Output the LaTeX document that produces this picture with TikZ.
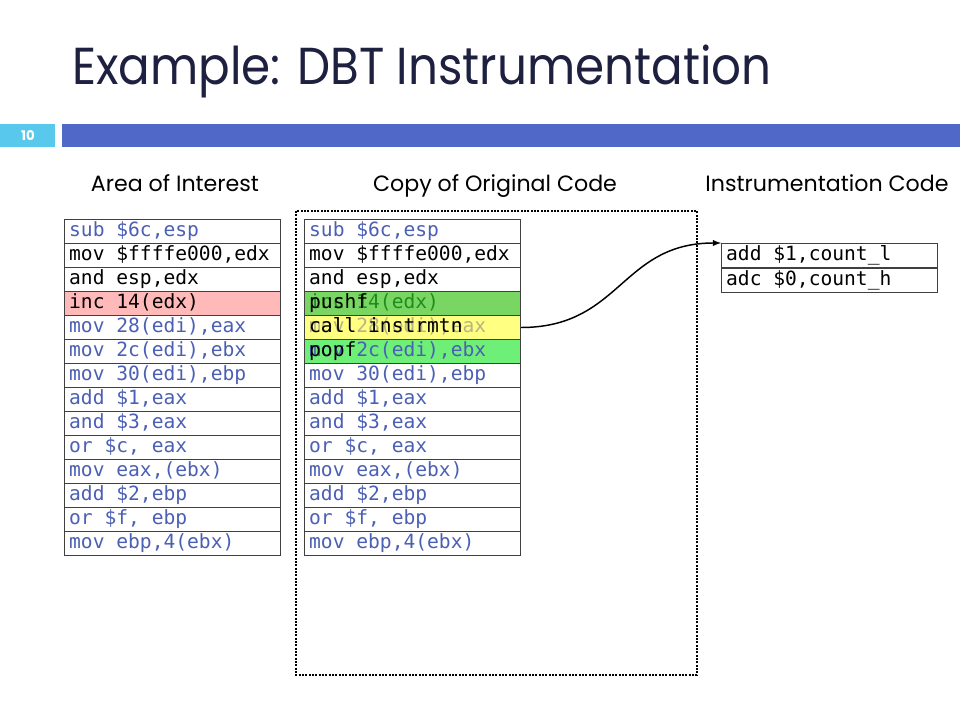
\documentclass[tikz,border=0pt]{standalone}
\usepackage{fontspec}
\usepackage{tikz}
\usepackage{xcolor}
\setmainfont{Poppins}
\newfontfamily\titlefont[FakeStretch=0.9]{Poppins}
\newfontfamily\codefont{DejaVu Sans Mono}
\definecolor{titlenavy}{RGB}{30,32,64}
\definecolor{codeblue}{RGB}{75,95,180}
\definecolor{barblue}{RGB}{80,104,200}
\definecolor{numcyan}{RGB}{88,200,236}
\definecolor{hitred}{RGB}{255,185,185}
\definecolor{pushgreen}{RGB}{122,214,98}
\definecolor{popgreen}{RGB}{110,240,120}
\definecolor{callyellow}{RGB}{255,255,130}
\definecolor{oldgreen}{RGB}{30,140,30}
\definecolor{oldgray}{RGB}{185,178,130}

\begin{document}
\begin{tikzpicture}[x=0.75pt,y=-0.75pt,
    row/.style={draw=black!75, line width=0.75pt, anchor=north west,
      minimum width=162pt, minimum height=18pt, inner xsep=3.5pt, inner ysep=0pt,
      text width=155pt, align=left, text height=10.5pt, text depth=3pt,
      font=\codefont\fontsize{14.7}{16}\selectfont,
      execute at begin node={\spaceskip=8.85pt\relax}},
    label/.style={anchor=base, inner sep=0pt, font=\fontsize{16.6}{20}\selectfont}]
                % Page
                \useasboundingbox (0,0) rectangle (960,720);
                
                % Title
                \node[anchor=base west, inner sep=0pt, text=titlenavy,
                  font=\titlefont\fontsize{39}{44}\selectfont] (title) at (72,85) {Example: DBT Instrumentation};
                
                % Header bar
                \fill[numcyan] (0,124) rectangle (55,147);
                \fill[barblue] (62,124) rectangle (960,147);
                \node[text=white, font=\bfseries\fontsize{10}{12}\selectfont] (slidenum) at (28,136) {10};
                
                % Column labels
                \node[label] (aoi) at (175,192) {Area of Interest};
                \node[label] (copy) at (495,192) {Copy of Original Code};
                \node[label] (instr) at (827,192) {Instrumentation Code};
                
                % Copy area
                \draw[densely dotted, line width=1.5pt] (296,211) rectangle (697,675);
                
                % Area of interest
                \foreach \i/\txt/\col/\bg in {1/{sub \$6c,esp}/codeblue/white,
                    2/{mov \$ffffe000,edx}/black/white, 3/{and esp,edx}/black/white,
                    4/{inc 14(edx)}/black/hitred, 5/{mov 28(edi),eax}/codeblue/white,
                    6/{mov 2c(edi),ebx}/codeblue/white, 7/{mov 30(edi),ebp}/codeblue/white,
                    8/{add \$1,eax}/codeblue/white, 9/{and \$3,eax}/codeblue/white,
                    10/{or \$c, eax}/codeblue/white, 11/{mov eax,(ebx)}/codeblue/white,
                    12/{add \$2,ebp}/codeblue/white, 13/{or \$f, ebp}/codeblue/white,
                    14/{mov ebp,4(ebx)}/codeblue/white}
                  \node[row, fill=\bg, text=\col] (a\i) at (64,{195+24*\i}) {\txt};
                
                % Copy of original code
                \foreach \i/\txt/\col/\bg in {1/{sub \$6c,esp}/codeblue/white,
                    2/{mov \$ffffe000,edx}/black/white, 3/{and esp,edx}/black/white,
                    4/{inc 14(edx)}/oldgreen/pushgreen, 5/{mov 28(edi),eax}/oldgray/callyellow,
                    6/{mov 2c(edi),ebx}/codeblue/popgreen, 7/{mov 30(edi),ebp}/codeblue/white,
                    8/{add \$1,eax}/codeblue/white, 9/{and \$3,eax}/codeblue/white,
                    10/{or \$c, eax}/codeblue/white, 11/{mov eax,(ebx)}/codeblue/white,
                    12/{add \$2,ebp}/codeblue/white, 13/{or \$f, ebp}/codeblue/white,
                    14/{mov ebp,4(ebx)}/codeblue/white}
                  \node[row, fill=\bg, text=\col] (c\i) at (304,{195+24*\i}) {\txt};
                
                % Inserted code
                \node[row, draw=none] (push) at (c4.north west) {pushf};
                \node[row, draw=none] (call) at (c5.north west) {call instrmtn};
                \node[row, draw=none] (pop) at (c6.north west) {popf};
                
                % Instrumentation code
                \node[row] (i1) at (721,243) {add \$1,count\_l};
                \node[row] (i2) at (i1.south west) {adc \$0,count\_h};
                
                % Call
                \draw[-latex, line width=1.1pt] (call.east) .. controls +(100,0) and +(-100,0) .. (i1.north west);
            \end{tikzpicture}
\end{document}
